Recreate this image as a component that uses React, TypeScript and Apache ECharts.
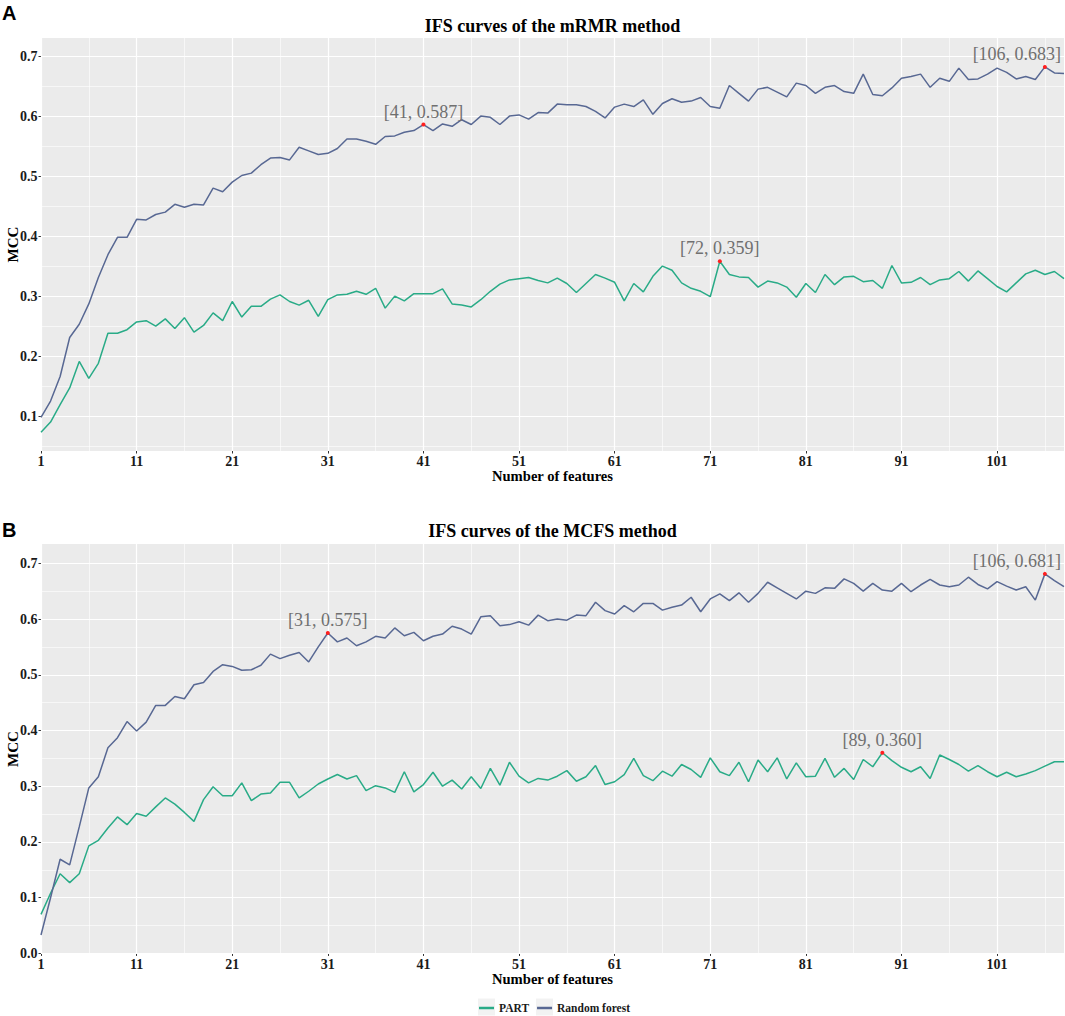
import React, { useEffect, useRef } from "react";
import * as echarts from "echarts";

// ---------------- data ----------------
const features = Array.from({ length: 108 }, (_, i) => i + 1);

const rfMRMR = [
  0.099, 0.126, 0.167, 0.232, 0.254, 0.288, 0.332, 0.370, 0.399, 0.399,
  0.429, 0.428, 0.437, 0.441, 0.454, 0.449, 0.454, 0.453, 0.481, 0.475,
  0.491, 0.502, 0.506, 0.520, 0.531, 0.532, 0.528, 0.549, 0.543, 0.537,
  0.539, 0.547, 0.563, 0.563, 0.559, 0.554, 0.567, 0.568, 0.574, 0.577,
  0.587, 0.577, 0.588, 0.584, 0.595, 0.587, 0.601, 0.599, 0.587, 0.601,
  0.603, 0.596, 0.607, 0.606, 0.621, 0.620, 0.620, 0.617, 0.609, 0.598,
  0.616, 0.621, 0.617, 0.628, 0.604, 0.622, 0.630, 0.624, 0.626, 0.632,
  0.617, 0.614, 0.652, 0.639, 0.626, 0.646, 0.649, 0.641, 0.633, 0.656,
  0.652, 0.639, 0.649, 0.652, 0.642, 0.639, 0.671, 0.637, 0.635, 0.648,
  0.664, 0.667, 0.671, 0.649, 0.664, 0.659, 0.681, 0.662, 0.663, 0.671,
  0.681, 0.674, 0.663, 0.667, 0.662, 0.683, 0.673, 0.672,
];

const partMRMR = [
  0.074, 0.091, 0.120, 0.148, 0.192, 0.164, 0.189, 0.239, 0.239, 0.245,
  0.258, 0.260, 0.251, 0.263, 0.247, 0.265, 0.241, 0.252, 0.273, 0.260,
  0.292, 0.266, 0.284, 0.284, 0.296, 0.303, 0.292, 0.286, 0.294, 0.267,
  0.295, 0.303, 0.304, 0.309, 0.304, 0.314, 0.281, 0.301, 0.293, 0.305,
  0.305, 0.305, 0.313, 0.288, 0.286, 0.283, 0.295, 0.309, 0.321, 0.328,
  0.330, 0.332, 0.327, 0.323, 0.331, 0.322, 0.307, 0.322, 0.337, 0.331,
  0.324, 0.293, 0.322, 0.308, 0.334, 0.351, 0.344, 0.323, 0.314, 0.309,
  0.300, 0.359, 0.337, 0.333, 0.332, 0.316, 0.326, 0.323, 0.316, 0.299,
  0.322, 0.307, 0.337, 0.320, 0.333, 0.334, 0.325, 0.327, 0.314, 0.352,
  0.323, 0.324, 0.332, 0.320, 0.328, 0.330, 0.342, 0.326, 0.343, 0.330,
  0.317, 0.308, 0.323, 0.338, 0.344, 0.337, 0.342, 0.330,
];

const rfMCFS = [
  0.033, 0.100, 0.169, 0.159, 0.227, 0.297, 0.317, 0.369, 0.387, 0.416,
  0.399, 0.415, 0.445, 0.445, 0.461, 0.457, 0.482, 0.486, 0.506, 0.518,
  0.515, 0.508, 0.509, 0.517, 0.537, 0.529, 0.535, 0.540, 0.523, 0.550,
  0.575, 0.559, 0.566, 0.552, 0.559, 0.569, 0.566, 0.584, 0.570, 0.576,
  0.561, 0.569, 0.573, 0.587, 0.582, 0.573, 0.604, 0.606, 0.588, 0.590,
  0.595, 0.589, 0.607, 0.597, 0.600, 0.598, 0.607, 0.606, 0.630, 0.615,
  0.609, 0.624, 0.613, 0.628, 0.628, 0.616, 0.621, 0.625, 0.639, 0.613,
  0.636, 0.645, 0.633, 0.647, 0.630, 0.646, 0.666, 0.656, 0.646, 0.636,
  0.650, 0.646, 0.656, 0.655, 0.672, 0.664, 0.650, 0.664, 0.652, 0.650,
  0.664, 0.649, 0.661, 0.671, 0.661, 0.658, 0.661, 0.675, 0.662, 0.654,
  0.667, 0.659, 0.652, 0.658, 0.634, 0.681, 0.669, 0.658,
];

const partMCFS = [
  0.070, 0.108, 0.143, 0.127, 0.143, 0.193, 0.203, 0.225, 0.245, 0.231,
  0.251, 0.246, 0.263, 0.279, 0.268, 0.253, 0.237, 0.276, 0.299, 0.283,
  0.283, 0.306, 0.274, 0.286, 0.288, 0.307, 0.307, 0.279, 0.291, 0.304,
  0.313, 0.321, 0.313, 0.319, 0.292, 0.301, 0.297, 0.289, 0.326, 0.290,
  0.303, 0.325, 0.300, 0.311, 0.295, 0.317, 0.296, 0.332, 0.302, 0.343,
  0.318, 0.306, 0.314, 0.311, 0.318, 0.328, 0.309, 0.317, 0.337, 0.303,
  0.308, 0.321, 0.350, 0.319, 0.310, 0.327, 0.318, 0.339, 0.330, 0.316,
  0.351, 0.326, 0.319, 0.343, 0.308, 0.347, 0.326, 0.351, 0.313, 0.342,
  0.317, 0.318, 0.350, 0.316, 0.332, 0.312, 0.348, 0.335, 0.360, 0.346,
  0.334, 0.326, 0.335, 0.314, 0.356, 0.348, 0.339, 0.327, 0.337, 0.326,
  0.317, 0.325, 0.317, 0.322, 0.328, 0.336, 0.344, 0.344,
];

const peaksMRMR_RF = [[41, 0.587], [106, 0.683]];
const peaksMRMR_PART = [[72, 0.359]];
const peaksMCFS_RF = [[31, 0.575], [106, 0.681]];
const peaksMCFS_PART = [[89, 0.36]];

const xTicks = [1, 11, 21, 31, 41, 51, 61, 71, 81, 91, 101];
const xMinor = [6, 16, 26, 36, 46, 56, 66, 76, 86, 96, 106];
const yTicksA = [0.1, 0.2, 0.3, 0.4, 0.5, 0.6, 0.7];
const yTicksB = [0, 0.1, 0.2, 0.3, 0.4, 0.5, 0.6, 0.7];
const yMinorA = [0.05, 0.15, 0.25, 0.35, 0.45, 0.55, 0.65];
const yMinorB = [0.05, 0.15, 0.25, 0.35, 0.45, 0.55, 0.65];

const titles = ["IFS curves of the mRMR method", "IFS curves of the MCFS method"];
const letters = ["A", "B"];
const seriesNames = ["PART", "Random forest"];
const colorPART = "#29AB87";
const colorRF = "#586893";

// ---------------- layout ----------------
const SERIF = '"Liberation Serif", "Times New Roman", serif';
const SANS = '"Liberation Sans", Arial, sans-serif';
const panels = [
  { top: 38, height: 413, yMin: 0.0428, yMax: 0.7312, yTicks: yTicksA, yMinor: yMinorA, rf: rfMRMR, part: partMRMR, pRF: peaksMRMR_RF, pPART: peaksMRMR_PART, titleY: 25.5, letterY: 13 },
  { top: 544, height: 410, yMin: -0.001, yMax: 0.7346, yTicks: yTicksB, yMinor: yMinorB, rf: rfMCFS, part: partMCFS, pRF: peaksMCFS_RF, pPART: peaksMCFS_PART, titleY: 531, letterY: 530 },
];
const GRID_LEFT = 41;
const GRID_WIDTH = 1023;

function peakPoints(peaks: number[][]) {
  return peaks.map(([x, y]) => ({
    coord: [x, y],
    value: y,
    label: {
      formatter: `[${x}, ${y.toFixed(3)}]`,
      offset: x >= 100 ? [-28, 0] : [0, 0],
    },
  }));
}

function gridLines(p: any) {
  return [
    ...xTicks.map((v) => ({ xAxis: v, lineStyle: { width: 1.2 } })),
    ...xMinor.map((v) => ({ xAxis: v, lineStyle: { width: 0.6 } })),
    ...p.yTicks.map((v: number) => ({ yAxis: v, lineStyle: { width: 1.2 } })),
    ...p.yMinor.map((v: number) => ({ yAxis: v, lineStyle: { width: 0.6 } })),
  ];
}

function buildOption() {
  const grid: any[] = [];
  const xAxis: any[] = [];
  const yAxis: any[] = [];
  const series: any[] = [];
  const graphic: any[] = [];

  panels.forEach((p, i) => {
    grid.push({
      left: GRID_LEFT,
      top: p.top,
      width: GRID_WIDTH,
      height: p.height,
      containLabel: false,
      outerBoundsMode: "none",
      show: true,
      backgroundColor: "#EBEBEB",
      borderWidth: 0,
    });
    xAxis.push({
      type: "value",
      gridIndex: i,
      min: 1,
      max: 108,
      interval: 10,
      axisLine: { show: false },
      axisTick: { show: true, length: 2.5, customValues: xTicks, lineStyle: { color: "#333", width: 1 } },
      axisLabel: {
        customValues: xTicks,
        formatter: (v: number) => (xTicks.indexOf(v) >= 0 ? String(v) : ""),
        margin: 3,
        color: "#1a1a1a",
        fontFamily: SERIF,
        fontWeight: "bold",
        fontSize: 14,
      },
      splitLine: { show: false },
      name: "Number of features",
      nameLocation: "middle",
      nameGap: 17,
      nameTextStyle: { color: "#000", fontFamily: SERIF, fontWeight: "bold", fontSize: 14.6 },
    });
    yAxis.push({
      type: "value",
      gridIndex: i,
      min: p.yMin,
      max: p.yMax,
      axisLine: { show: false },
      axisTick: { show: true, length: 2.5, customValues: p.yTicks, lineStyle: { color: "#333", width: 1 } },
      axisLabel: {
        customValues: p.yTicks,
        formatter: (v: number) => v.toFixed(1),
        margin: 3.5,
        color: "#1a1a1a",
        fontFamily: SERIF,
        fontWeight: "bold",
        fontSize: 14,
      },
      splitLine: { show: false },
      name: "MCC",
      nameLocation: "middle",
      nameRotate: 90,
      nameGap: 21,
      nameMoveOverlap: false,
      nameTextStyle: { color: "#000", fontFamily: SERIF, fontWeight: "bold", fontSize: 15 },
    });

    const markLabel = {
      show: true,
      position: "top",
      distance: 2,
      color: "#707070",
      fontFamily: SERIF,
      fontSize: 18,
      fontWeight: "normal",
    };

    series.push({
      name: seriesNames[0],
      type: "line",
      xAxisIndex: i,
      yAxisIndex: i,
      data: features.map((f, k) => [f, p.part[k]]),
      showSymbol: false,
      symbol: "none",
      lineStyle: { color: colorPART, width: 1.5 },
      itemStyle: { color: colorPART },
      markLine: {
        z: 1,
        silent: true,
        symbol: "none",
        label: { show: false },
        lineStyle: { color: "#FFFFFF", type: "solid" },
        emphasis: { disabled: true },
        data: gridLines(p),
      },
      markPoint: {
        symbol: "circle",
        symbolSize: 4,
        itemStyle: { color: "#FF2020" },
        label: markLabel,
        silent: true,
        data: peakPoints(p.pPART),
      },
    });
    series.push({
      name: seriesNames[1],
      type: "line",
      xAxisIndex: i,
      yAxisIndex: i,
      data: features.map((f, k) => [f, p.rf[k]]),
      showSymbol: false,
      symbol: "none",
      lineStyle: { color: colorRF, width: 1.5 },
      itemStyle: { color: colorRF },
      markPoint: {
        symbol: "circle",
        symbolSize: 4,
        itemStyle: { color: "#FF2020" },
        label: markLabel,
        silent: true,
        data: peakPoints(p.pRF),
      },
    });

    graphic.push({
      type: "text",
      x: GRID_LEFT + GRID_WIDTH / 2,
      y: p.titleY,
      style: {
        text: titles[i],
        font: `bold 18px ${SERIF}`,
        fill: "#000",
        textAlign: "center",
        textVerticalAlign: "middle",
      },
    });
    graphic.push({
      type: "text",
      x: 2,
      y: p.letterY,
      style: {
        text: letters[i],
        font: `bold 20px ${SANS}`,
        fill: "#000",
        textAlign: "left",
        textVerticalAlign: "middle",
      },
    });
  });

  // light grey legend key backgrounds (ggplot legend keys)
  [478, 536].forEach((x) => {
    graphic.push({
      type: "rect",
      z: -1,
      shape: { x, y: 998.5, width: 17, height: 17 },
      style: { fill: "#F2F2F2" },
      silent: true,
    });
  });

  return {
    animation: false,
    backgroundColor: "#FFFFFF",
    grid,
    xAxis,
    yAxis,
    series,
    graphic,
    legend: {
      data: seriesNames,
      left: 474,
      top: 997,
      icon: "rect",
      itemWidth: 15,
      itemHeight: 2.5,
      itemGap: 8,
      textStyle: { color: "#1a1a1a", fontFamily: SERIF, fontWeight: "bold", fontSize: 11.5 },
    },
  };
}

export default function App() {
  const ref = useRef<HTMLDivElement>(null);
  useEffect(() => {
    document.body.style.margin = "0";
    if (!ref.current) return;
    const chart = echarts.init(ref.current, undefined, { renderer: "svg" });
    chart.setOption(buildOption() as any);
    return () => chart.dispose();
  }, []);
  return <div ref={ref} style={{ width: 1065, height: 1016 }} />;
}
